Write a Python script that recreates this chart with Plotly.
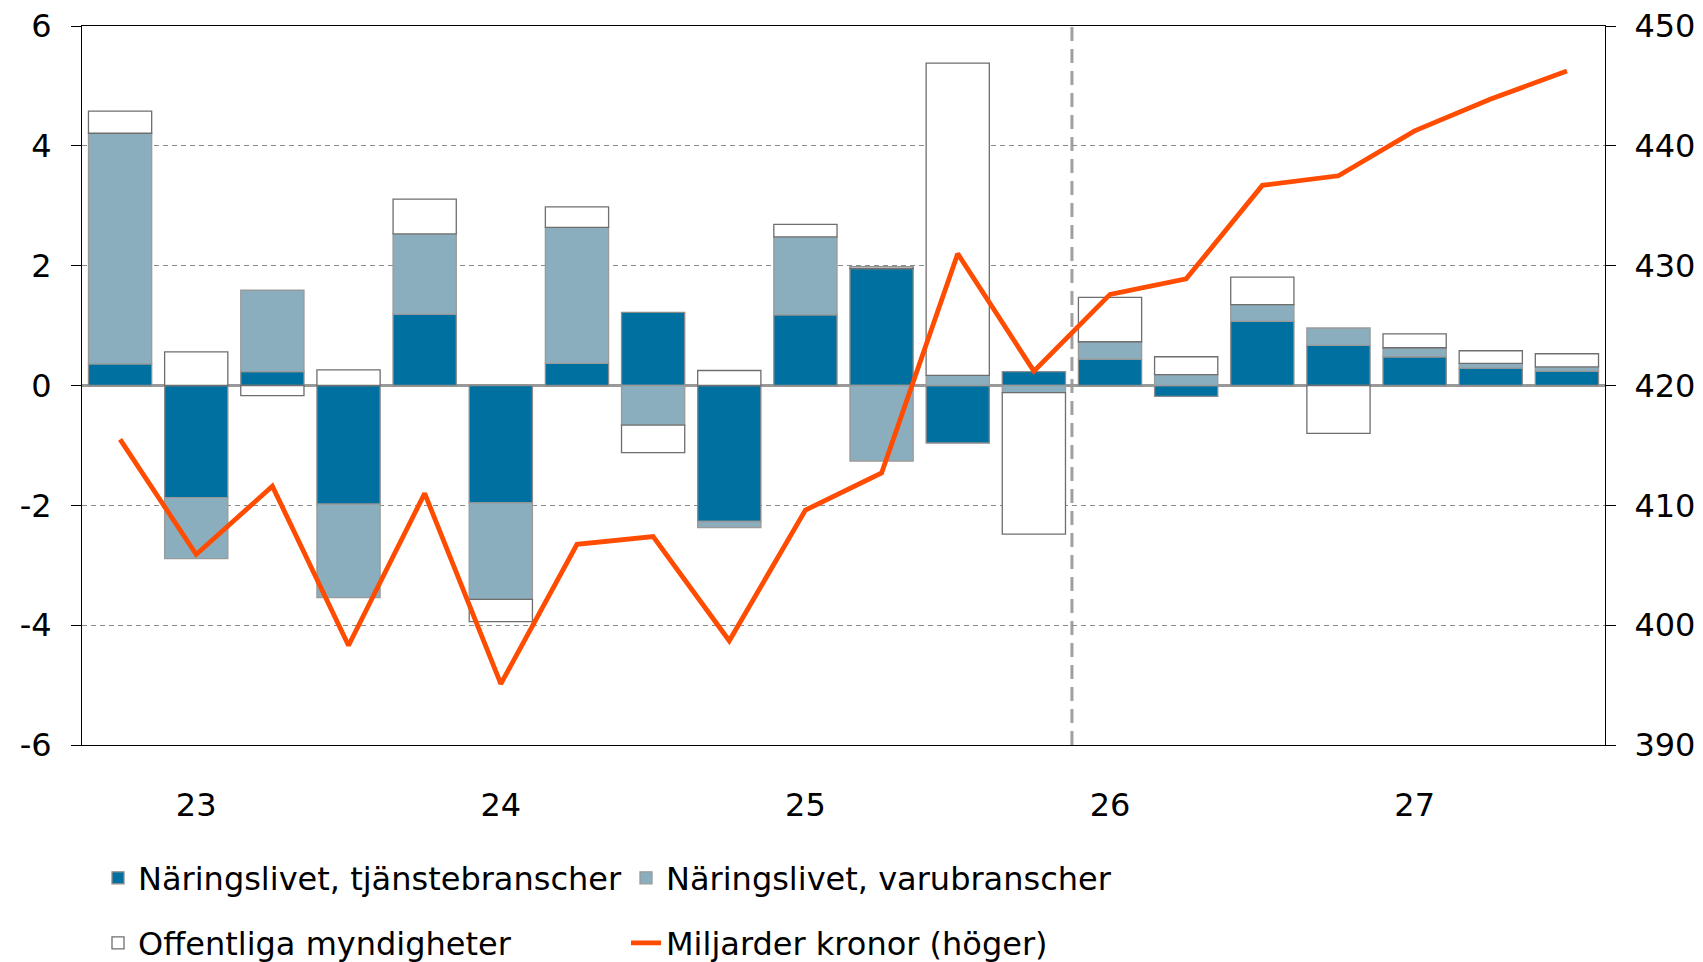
import plotly.graph_objects as go

quarters = ["22K4", "23K1", "23K2", "23K3", "23K4", "24K1", "24K2", "24K3", "24K4",
            "25K1", "25K2", "25K3", "25K4", "26K1", "26K2", "26K3", "26K4",
            "27K1", "27K2", "27K3"]
tjanste = [0.36, -1.87, 0.23, -1.98, 1.19, -1.96, 0.37, 1.22, -2.27, 1.18,
           1.95, -0.96, 0.23, 0.44, -0.18, 1.07, 0.67, 0.48, 0.29, 0.24]
varu = [3.85, -1.02, 1.36, -1.56, 1.34, -1.61, 2.27, -0.66, -0.10, 1.30,
        -1.26, 0.17, -0.12, 0.29, 0.18, 0.28, 0.29, 0.15, 0.08, 0.07]
offentliga = [0.37, 0.56, -0.17, 0.26, 0.58, -0.37, 0.34, -0.46, 0.25, 0.21,
              0.03, 5.21, -2.36, 0.74, 0.30, 0.46, -0.80, 0.23, 0.21, 0.22]
miljarder = [415.5, 405.9, 411.6, 398.3, 411.0, 395.1, 406.75, 407.4, 398.7, 409.6,
             412.7, 431.0, 421.2, 427.6, 428.9, 436.7, 437.5, 441.25, 443.9, 446.25]
year_ticks = ["23K1", "24K1", "25K1", "26K1", "27K1"]
year_labels = ["23", "24", "25", "26", "27"]
left_ticks = [-6, -4, -2, 0, 2, 4, 6]
left_labels = ["-6", "-4", "-2", "0", "2", "4", "6"]
right_ticks = [390, 400, 410, 420, 430, 440, 450]
names = ["Näringslivet, tjänstebranscher", "Näringslivet, varubranscher",
         "Offentliga myndigheter", "Miljarder kronor (höger)"]

FONT = "DejaVu Sans"
FS = 32

fig = go.Figure()
fig.add_trace(go.Bar(x=quarters, y=tjanste, name=names[0],
                     marker=dict(color="#0070A0", line=dict(color="#8C8C8C", width=1.3)),
                     legend="legend"))
fig.add_trace(go.Bar(x=quarters, y=varu, name=names[1],
                     marker=dict(color="#8AAEBE", line=dict(color="#9A9A9A", width=1.3)),
                     legend="legend"))
fig.add_trace(go.Bar(x=quarters, y=offentliga, name=names[2],
                     marker=dict(color="#FFFFFF", line=dict(color="#6E6E6E", width=1.3)),
                     legend="legend2"))
fig.add_trace(go.Scatter(x=quarters, y=miljarder, name=names[3], mode="lines",
                         line=dict(color="#FF4C00", width=4.8), yaxis="y2",
                         legend="legend2"))

fig.add_shape(type="line", xref="x", yref="paper", x0=12.5, x1=12.5, y0=0, y1=1,
              line=dict(color="#A0A0A0", width=3, dash="14px,8px"), layer="below")

fig.update_layout(
    template="none",
    width=1703, height=962,
    margin=dict(l=82, r=98, t=26, b=217, autoexpand=False),
    paper_bgcolor="white", plot_bgcolor="white",
    font=dict(family=FONT, size=FS, color="black"),
    barmode="relative", bargap=0.17,
    showlegend=True,
    xaxis=dict(type="category", categoryorder="array", categoryarray=quarters,
               range=[-0.5, 19.5], tickmode="array", tickvals=year_ticks,
               ticktext=year_labels, ticks="", showgrid=False, automargin=False,
               showline=True, linecolor="black", linewidth=1, mirror=True,
               ticklabelstandoff=32, zeroline=False),
    yaxis=dict(range=[-6, 6], tickmode="array", tickvals=left_ticks, ticktext=left_labels,
               showgrid=True, gridcolor="#8A8A8A", gridwidth=1.3, griddash="5px,4px",
               zeroline=True, zerolinecolor="#999999", zerolinewidth=3, automargin=False,
               showline=True, linecolor="black", linewidth=1,
               ticks="outside", ticklen=10, tickcolor="black", ticklabelstandoff=13),
    yaxis2=dict(range=[390, 450], tickmode="array", tickvals=right_ticks,
                overlaying="y", side="right", showgrid=False, zeroline=False,
                showline=True, linecolor="black", linewidth=1, automargin=False,
                ticks="outside", ticklen=10, tickcolor="black", ticklabelstandoff=12),
    legend=dict(orientation="h", xref="container", yref="container",
                x=98 / 1703, xanchor="left", y=(962 - 878) / 962, yanchor="middle",
                entrywidth=483, entrywidthmode="pixels", font=dict(size=FS),
                bgcolor="rgba(0,0,0,0)", traceorder="normal"),
    legend2=dict(orientation="h", xref="container", yref="container",
                 x=98 / 1703, xanchor="left", y=(962 - 943) / 962, yanchor="middle",
                 entrywidth=483, entrywidthmode="pixels", font=dict(size=FS),
                 bgcolor="rgba(0,0,0,0)", traceorder="normal"),
)

fig.write_html("out.html", config={"displayModeBar": False},
               post_script="document.body.style.margin='0px';document.body.style.overflow='hidden';")
